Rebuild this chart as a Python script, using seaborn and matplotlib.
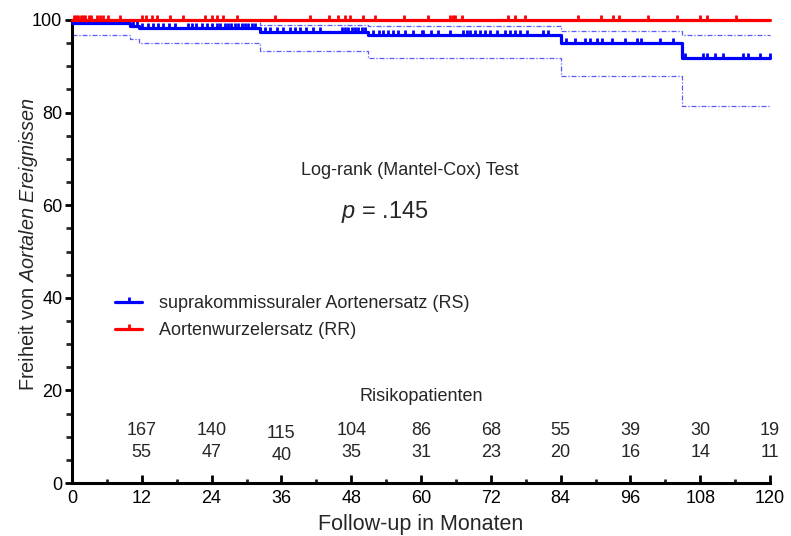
import numpy as np
import pandas as pd
import matplotlib
matplotlib.use("Agg")
import matplotlib.pyplot as plt
from matplotlib.path import Path
from matplotlib.markers import MarkerStyle
from matplotlib.lines import Line2D
from matplotlib.ticker import MultipleLocator
import seaborn as sns

# ---- data ----
rs_label = "suprakommissuraler Aortenersatz (RS)"
rr_label = "Aortenwurzelersatz (RR)"

rs_times = [0, 10.0, 11.5, 32.3, 50.9, 84.1, 104.9, 120]
rs_surv = [99.3, 98.7, 98.3, 97.5, 96.7, 95.0, 91.9, 91.9]
rs_lower = [96.8, 95.8, 95.0, 93.4, 91.8, 87.8, 81.4, 81.4]
rs_upper = [100, 100, 100, 98.9, 98.6, 97.7, 96.7, 96.7]

rr_times = [0, 120]
rr_surv = [100, 100]

rs_censor = [10.5, 11.2, 12.0, 13.1, 14.0, 14.8, 15.7, 16.6, 17.7, 20.0, 20.6, 21.4,
             22.3, 23.2, 24.0, 24.9, 25.4, 26.3, 26.9, 27.4, 28.0, 28.6, 29.2, 29.7,
             30.3, 30.9, 31.5, 33.2, 34.0, 35.2, 36.3, 37.5, 38.3, 39.2, 40.3, 41.5,
             42.6, 46.4, 46.9, 47.5, 48.1, 48.6, 49.2, 49.8, 50.4, 51.8, 52.7, 53.5,
             54.4, 55.2, 56.1, 57.2, 58.7, 60.1, 60.4, 61.8, 63.0, 65.0, 67.3, 67.9,
             68.4, 69.3, 70.1, 71.0, 71.9, 73.0, 74.4, 75.3, 76.2, 77.0, 78.2, 81.0,
             81.9, 85.0, 86.5, 88.2, 89.1, 90.2, 91.1, 92.8, 95.1, 97.1, 97.9, 101.1,
             103.4, 105.4, 108.5, 109.1, 110.5, 112.0, 115.4, 116.3, 118.3, 120.0]
rr_censor = [0.3, 0.7, 1.1, 1.5, 1.9, 2.2, 2.9, 3.3, 4.3, 4.8, 5.3, 6.2, 8.3, 12.0,
             12.8, 13.7, 14.6, 16.8, 19.1, 22.9, 24.0, 24.9, 26.0, 28.3, 34.9, 40.9,
             44.2, 45.7, 46.9, 47.8, 50.1, 52.1, 57.0, 61.2, 65.0, 65.5, 65.8, 67.0,
             75.0, 76.2, 77.9, 87.0, 91.0, 93.0, 94.0, 99.0, 104.0, 108.0, 109.1, 114.1]

risk_times = [12, 24, 36, 48, 60, 72, 84, 96, 108, 120]
risk_rs = [167, 140, 115, 104, 86, 68, 55, 39, 30, 19]
risk_rr = [55, 47, 40, 35, 31, 23, 20, 16, 14, 11]

x_ticks = [0, 12, 24, 36, 48, 60, 72, 84, 96, 108, 120]
y_ticks = [0, 20, 40, 60, 80, 100]

# ---- style ----
sns.set_theme(style="ticks")
plt.rcParams["font.family"] = ["Liberation Sans", "DejaVu Sans"]
plt.rcParams["mathtext.fontset"] = "custom"
plt.rcParams["mathtext.rm"] = "Liberation Sans"
plt.rcParams["mathtext.it"] = "Liberation Sans:italic"

BLUE = "#0000ff"
RED = "#ff0000"
CI = "#5a5aff"

fig = plt.figure(figsize=(7.91, 5.36), dpi=100)
ax = fig.add_axes([72 / 791, 53 / 536, 698 / 791, 463 / 536])

df_main = pd.concat([
    pd.DataFrame({"t": rs_times, "s": rs_surv, "g": rs_label}),
    pd.DataFrame({"t": rr_times, "s": rr_surv, "g": rr_label}),
])
df_ci = pd.concat([
    pd.DataFrame({"t": rs_times, "s": rs_lower, "g": "lo"}),
    pd.DataFrame({"t": rs_times, "s": rs_upper, "g": "hi"}),
])

sns.lineplot(data=df_ci, x="t", y="s", units="g", estimator=None, sort=False,
             drawstyle="steps-post", color=CI, lw=0.9, linestyle=(0, (4, 1.5, 1, 1.5)),
             ax=ax, legend=False, zorder=2)
sns.lineplot(data=df_main, x="t", y="s", hue="g", estimator=None, sort=False,
             drawstyle="steps-post", palette={rs_label: BLUE, rr_label: RED},
             lw=2.3, ax=ax, legend=False, zorder=3)
for l in ax.lines:
    l.set_clip_on(False)
# red on top
ax.lines[-1].set_zorder(5)

tick = MarkerStyle(Path([(0, 0), (0, 1)]))

def surv_at(times, surv, xs):
    idx = np.searchsorted(np.asarray(times), np.asarray(xs), side="right") - 1
    return np.asarray(surv)[idx]

ax.plot(rs_censor, surv_at(rs_times, rs_surv, rs_censor), linestyle="none",
        marker=tick, markersize=6.5, mew=2, color=BLUE, clip_on=False, zorder=4)
ax.plot(rr_censor, surv_at(rr_times, rr_surv, rr_censor), linestyle="none",
        marker=tick, markersize=6.5, mew=2, color=RED, clip_on=False, zorder=6)

# axes
ax.set_xlim(0, 120)
ax.set_ylim(0, 100)
ax.set_xticks(x_ticks)
ax.set_yticks(y_ticks)
ax.xaxis.set_minor_locator(MultipleLocator(6))
ax.yaxis.set_minor_locator(MultipleLocator(5))
for s in ["top", "right"]:
    ax.spines[s].set_visible(False)
for s in ["left", "bottom"]:
    ax.spines[s].set_linewidth(2.2)
    ax.spines[s].set_color("black")
ax.tick_params(axis="x", which="major", direction="in", length=6, width=2, labelsize=13, pad=5, colors="black")
ax.tick_params(axis="x", which="minor", direction="in", length=3, width=2)
ax.tick_params(axis="y", which="major", direction="out", length=5, width=2, labelsize=13, pad=2, colors="black")
ax.tick_params(axis="y", which="minor", direction="out", length=4, width=2)

ax.set_xlabel("Follow-up in Monaten", fontsize=15.5)
ax.set_ylabel(r"Freiheit von $\it{Aortalen\ Ereignissen}$", fontsize=14.3)
ax.xaxis.set_label_coords(0.5, -0.066)
ax.yaxis.set_label_coords(-0.046, 0.517)

# annotations
ax.text(58, 67.4, "Log-rank (Mantel-Cox) Test", fontsize=13, ha="center", va="center")
ax.text(53.8, 58.5, r"$\it{p}$ = .145", fontsize=17, ha="center", va="center")

ax.text(60, 18.6, "Risikopatienten", fontsize=13, ha="center", va="center")
for t, a, b in zip(risk_times, risk_rs, risk_rr):
    off = -0.7 if t == 36 else 0
    ax.text(t, 11.4 + off, str(a), fontsize=13, ha="center", va="center")
    ax.text(t, 6.6 + off, str(b), fontsize=13, ha="center", va="center")

handles = [
    Line2D([0], [0], color=BLUE, lw=2.3, marker=tick, markersize=6.5, mew=2),
    Line2D([0], [0], color=RED, lw=2.3, marker=tick, markersize=6.5, mew=2),
]
ax.legend(handles, [rs_label, rr_label], loc="upper left", bbox_to_anchor=(0.062, 0.405),
          frameon=False, fontsize=13, borderpad=0, borderaxespad=0, handlelength=1.5,
          handletextpad=0.9, labelspacing=0.55, numpoints=1)

fig.savefig("out.png", dpi=100)
